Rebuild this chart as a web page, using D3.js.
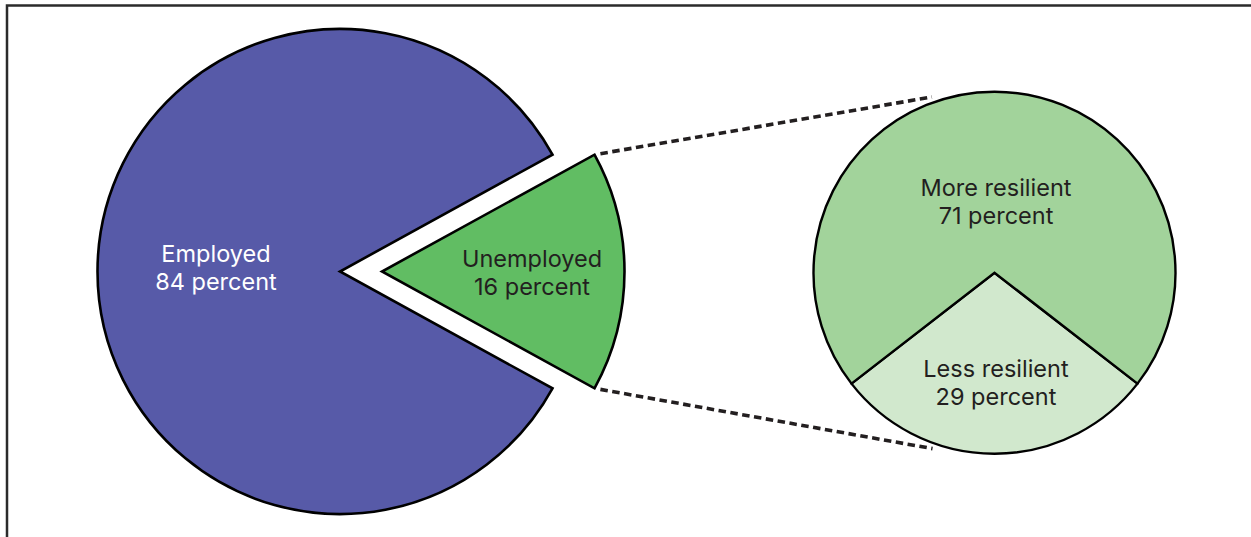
<!DOCTYPE html>
<html>
<head>
<meta charset="utf-8">
<script src="https://cdn.jsdelivr.net/npm/d3@7/dist/d3.min.js"></script>
<style>
  html, body { margin: 0; padding: 0; background: #fff; }
  svg { display: block; }
</style>
</head>
<body>
<svg id="chart" width="1251" height="537"></svg>
<script>
// ---- Data ----
const mainCategories = ["Unemployed", "Employed"];
const mainValues = [16, 84];
const mainLabels = ["16 percent", "84 percent"];

const subCategories = ["Less resilient", "More resilient"];
const subValues = [29, 71];
const subLabels = ["29 percent", "71 percent"];

// ---- Layout ----
const W = 1251, H = 537;
const svg = d3.select("#chart");
const fontFamily = "Inter, Roboto, 'Noto Sans', sans-serif";
const ink = "#231f20";

// frame
svg.append("path")
  .attr("d", `M7,${H} V5.5 H${W}`)
  .attr("fill", "none")
  .attr("stroke", "#2b2b2b")
  .attr("stroke-width", 2.5);

// main pie
const mainC = { x: 340, y: 271.5 }, mainR = 242.5, explode = 42;
const mainColors = d3.scaleOrdinal().domain(mainCategories).range(["#61bd63", "#575aa8"]);
const uTotal = d3.sum(mainValues);
const uAngle = mainValues[0] / uTotal * 2 * Math.PI;
const mainPie = d3.pie().sort(null).value(d => d.value)
  .startAngle(Math.PI / 2 - uAngle / 2)
  .endAngle(Math.PI / 2 - uAngle / 2 + 2 * Math.PI);
const mainData = mainPie(mainCategories.map((c, i) => ({ cat: c, value: mainValues[i], label: mainLabels[i] })));
const mainArc = d3.arc().innerRadius(0).outerRadius(mainR);

const gMain = svg.append("g").attr("transform", `translate(${mainC.x},${mainC.y})`);
mainData.forEach((d, i) => {
  const mid = (d.startAngle + d.endAngle) / 2;
  const off = i === 0 ? explode : 0;
  const dx = Math.sin(mid) * off, dy = -Math.cos(mid) * off;
  const g = gMain.append("g").attr("transform", `translate(${dx},${dy})`);
  g.append("path")
    .attr("d", mainArc(d))
    .attr("fill", mainColors(d.data.cat))
    .attr("stroke", "#000")
    .attr("stroke-width", 2.6)
    .attr("stroke-linejoin", "miter");
});

// sub pie
const subC = { x: 994.5, y: 272.7 }, subR = 181;
const subColors = d3.scaleOrdinal().domain(subCategories).range(["#d1e8cd", "#a2d39b"]);
const lAngle = subValues[0] / d3.sum(subValues) * 2 * Math.PI;
const subPie = d3.pie().sort(null).value(d => d.value)
  .startAngle(Math.PI - lAngle / 2)
  .endAngle(Math.PI - lAngle / 2 + 2 * Math.PI);
const subData = subPie(subCategories.map((c, i) => ({ cat: c, value: subValues[i], label: subLabels[i] })));
const subArc = d3.arc().innerRadius(0).outerRadius(subR);
const gSub = svg.append("g").attr("transform", `translate(${subC.x},${subC.y})`);
subData.forEach(d => {
  gSub.append("path")
    .attr("d", subArc(d))
    .attr("fill", subColors(d.data.cat))
    .attr("stroke", "#000")
    .attr("stroke-width", 2.4)
    .attr("stroke-linejoin", "miter");
});

// connector dashed lines: from exploded slice corners to sub-pie
const u = mainData[0];
const uMid = (u.startAngle + u.endAngle) / 2;
const ux = mainC.x + Math.sin(uMid) * explode, uy = mainC.y - Math.cos(uMid) * explode;
const corners = [u.startAngle, u.endAngle].map(a => [ux + Math.sin(a) * mainR, uy - Math.cos(a) * mainR]);
const endAngles = [-19.6 * Math.PI / 180, Math.PI + 19.4 * Math.PI / 180];
const ends = endAngles.map(a => [subC.x + Math.sin(a) * (subR + 5.5), subC.y - Math.cos(a) * (subR + 5.5)]);
corners.forEach((p, i) => {
  const q = ends[i];
  const len = Math.hypot(q[0] - p[0], q[1] - p[1]);
  const ux2 = (q[0] - p[0]) / len, uy2 = (q[1] - p[1]) / len;
  const s = [p[0] + ux2 * 6, p[1] + uy2 * 6];
  svg.append("path")
    .attr("d", d3.line()([s, q]))
    .attr("stroke", "#231f20")
    .attr("stroke-width", 3.6)
    .attr("stroke-dasharray", "7.5 4.5")
    .attr("fill", "none");
});

// labels
function label(x, y, lines, color) {
  const t = svg.append("text")
    .attr("x", x).attr("y", y)
    .attr("text-anchor", "middle")
    .attr("font-family", fontFamily)
    .attr("font-size", 23.5)
    .attr("fill", color);
  lines.forEach((l, i) => {
    t.append("tspan").attr("x", x).attr("dy", i === 0 ? 0 : 28).text(l);
  });
}
label(216, 262, [mainCategories[1], mainLabels[1]], "#ffffff");
label(532, 267, [mainCategories[0], mainLabels[0]], ink);
label(996, 196, [subCategories[1], subLabels[1]], ink);
label(996, 377, [subCategories[0], subLabels[0]], ink);
</script>
</body>
</html>
